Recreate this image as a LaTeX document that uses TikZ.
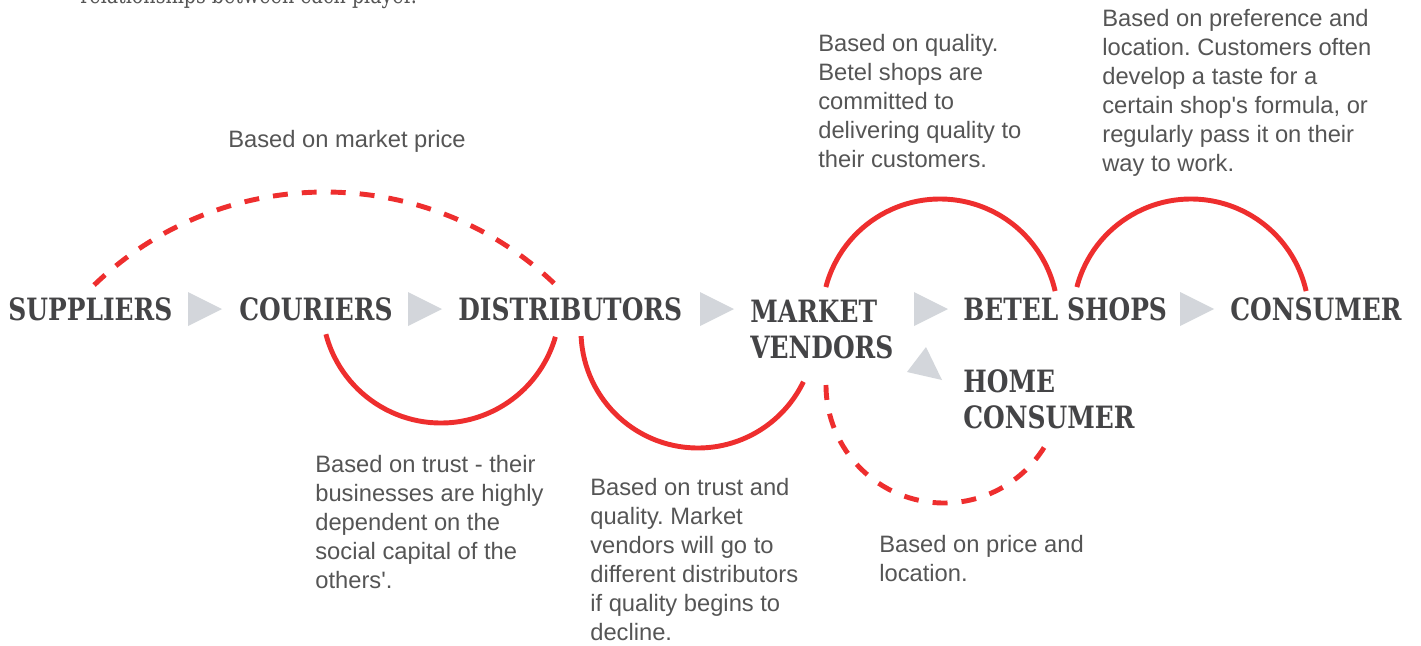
\documentclass[tikz,border=0pt]{standalone}
\usepackage{fontspec}
\setmainfont{Liberation Sans}
\newfontfamily\slabfont[FakeStretch=0.81]{DejaVu Serif}
\frenchspacing
\definecolor{relred}{HTML}{EE2E2E}
\definecolor{flowgray}{HTML}{D3D6DB}
\definecolor{playergray}{HTML}{444446}
\definecolor{notegray}{HTML}{555555}
\tikzset{
  player/.style={anchor=base west, inner sep=0pt, align=left, text=playergray,
    font=\slabfont\bfseries\fontsize{17.5}{20.4}\selectfont},
  note/.style={anchor=base west, inner sep=0pt, align=left, text=notegray,
    font=\fontsize{13.5}{16.44}\selectfont},
  rel/.style={relred, line width=2.8pt},
  reldash/.style={rel, dash pattern=on 8.5pt off 8pt},
  flow/.style={fill=flowgray}
}
\begin{document}
\begin{tikzpicture}[x=0.02cm, y=-0.02cm]
\useasboundingbox (0,0) rectangle (1421,646);
% Intro line, cut off by the top edge
\node[note, font=\slabfont\fontsize{13.4}{16}\selectfont] (intro) at (80,3) {relationships between each player.};
% Players in the chain (multi-line nodes sit on their last baseline)
\node[player] (sup) at (8,320) {SUPPLIERS};
\node[player] (cou) at (239,320) {COURIERS};
\node[player] (dis) at (458,320) {DISTRIBUTORS};
\node[player] (mkt) at (750,358) {MARKET\\VENDORS};
\node[player] (bet) at (963,320) {BETEL SHOPS};
\node[player] (con) at (1230,320) {CONSUMER};
\node[player] (hom) at (963,428) {HOME\\CONSUMER};
% Flow triangles
\foreach \x in {188,408,700,914,1180}
  \fill[flow] (\x,292) -- ++(34,17) -- ++(-34,17) -- cycle;
\fill[flow] (926,347) -- (942,380) -- (907,372) -- cycle;
% Centres of the relationship arcs
\coordinate (c1) at (325,525);
\coordinate (c2) at (441,304);
\coordinate (c3) at (698,331);
\coordinate (c4) at (944,385);
\coordinate (c5) at (940,317);
\coordinate (c6) at (1191,317);
% Relationship arcs
\draw[reldash] (c1) ++(226.1:333) arc[start angle=226.1, end angle=313.7, radius=333];
\draw[rel] (c2) ++(165.3:119) arc[start angle=165.3, end angle=16, radius=119];
\draw[rel] (c3) ++(177.5:117) arc[start angle=177.5, end angle=25.7, radius=117];
\draw[reldash] (c4) ++(180:118) arc[start angle=180, end angle=31.7, radius=118];
\draw[rel] (c5) ++(194.7:118) arc[start angle=194.7, end angle=347.3, radius=118];
\draw[rel] (c6) ++(194.7:118) arc[start angle=194.7, end angle=347.3, radius=118];
% Notes on each relationship
\node[note] (n1) at (228,147) {Based on market price};
\node[note] (n2) at (315,588) {Based on trust - their\\businesses are highly\\dependent on the\\social capital of the\\others\textquotesingle.};
\node[note] (n3) at (590,640) {Based on trust and\\quality. Market\\vendors will go to\\different distributors\\if quality begins to\\decline.};
\node[note] (n4) at (879,581) {Based on price and\\location.};
\node[note] (n5) at (818,167) {Based on quality.\\Betel shops are\\committed to\\delivering quality to\\their customers.};
\node[note] (n6) at (1102,171) {Based on preference and\\location. Customers often\\develop a taste for a\\certain shop\textquotesingle s formula, or\\regularly pass it on their\\way to work.};
\end{tikzpicture}
\end{document}
